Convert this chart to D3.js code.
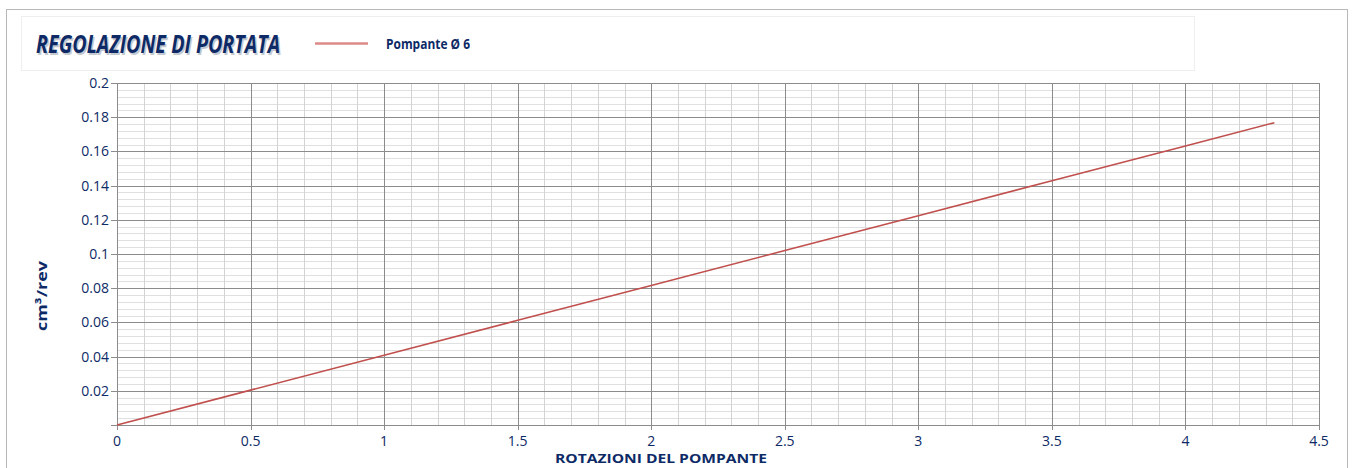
<!DOCTYPE html>
<html>
<head>
<meta charset="utf-8">
<script src="https://d3js.org/d3.v7.min.js"></script>
<style>
  body { margin: 0; background: #fff; }
  text { font-family: "Open Sans", "Noto Sans", sans-serif; }
</style>
</head>
<body>
<svg id="chart" width="1352" height="468"></svg>
<script>
// data
const rotations = [0, 0.5, 1, 1.5, 2, 2.5, 3, 3.5, 4, 4.333]
const flow = [0, 0.0204, 0.0408, 0.0612, 0.0816, 0.102, 0.1224, 0.1428, 0.1632, 0.1768]
const xTicks = [0, 0.5, 1, 1.5, 2, 2.5, 3, 3.5, 4, 4.5]
const yTicks = [0.02, 0.04, 0.06, 0.08, 0.1, 0.12, 0.14, 0.16, 0.18, 0.2]
const seriesName = 'Pompante \u00D8 6'
const title = 'REGOLAZIONE DI PORTATA'

const navy = '#0d2a66'
const svg = d3.select('#chart')

// outer frame
svg.append('rect')
    .attr('x', 6.5).attr('y', 9.5).attr('width', 1341).attr('height', 470)
    .attr('fill', '#fff').attr('stroke', '#b8b8b8')

// title box
svg.append('rect')
    .attr('x', 21.5).attr('y', 16.5).attr('width', 1173).attr('height', 54)
    .attr('fill', '#fff').attr('stroke', '#eeeeee')

const x = d3.scaleLinear().domain([0, 4.5]).range([117, 1319])
const y = d3.scaleLinear().domain([0, 0.2]).range([425, 83])

const grid = svg.append('g')
// minor grid
grid.selectAll('.hmin').data(d3.range(0, 0.2001, 0.004))
    .enter().append('line')
    .attr('x1', x(0)).attr('x2', x(4.5))
    .attr('y1', d => Math.round(y(d)) + 0.5).attr('y2', d => Math.round(y(d)) + 0.5)
    .attr('stroke', '#e0e0e0')
grid.selectAll('.vmin').data(d3.range(0, 4.5001, 0.1))
    .enter().append('line')
    .attr('y1', y(0)).attr('y2', y(0.2))
    .attr('x1', d => Math.round(x(d)) + 0.5).attr('x2', d => Math.round(x(d)) + 0.5)
    .attr('stroke', '#d4d4d4')
// major grid
grid.selectAll('.hmaj').data(yTicks)
    .enter().append('line')
    .attr('x1', x(0) - 6).attr('x2', x(4.5))
    .attr('y1', d => Math.round(y(d)) + 0.5).attr('y2', d => Math.round(y(d)) + 0.5)
    .attr('stroke', '#8c8c8c')
grid.selectAll('.vmaj').data(xTicks)
    .enter().append('line')
    .attr('y1', y(0) + 5).attr('y2', y(0.2))
    .attr('x1', d => Math.round(x(d)) + 0.5).attr('x2', d => Math.round(x(d)) + 0.5)
    .attr('stroke', '#8c8c8c')
// axis line
svg.append('line')
    .attr('x1', x(0) - 6).attr('x2', x(4.5))
    .attr('y1', Math.round(y(0)) + 0.5).attr('y2', Math.round(y(0)) + 0.5)
    .attr('stroke', '#8c8c8c')

// tick labels
svg.append('g').selectAll('text').data(yTicks)
    .enter().append('text')
    .attr('x', 109).attr('y', d => y(d) + 5)
    .attr('text-anchor', 'end')
    .attr('font-size', 14).attr('fill', navy)
    .text(d => d)
svg.append('g').selectAll('text').data(xTicks)
    .enter().append('text')
    .attr('x', d => x(d)).attr('y', 446)
    .attr('text-anchor', 'middle')
    .attr('font-size', 14).attr('fill', navy)
    .text(d => d)

// series
const pts = rotations.map((r, i) => [r, flow[i]])
svg.append('path')
    .datum(pts)
    .attr('d', d3.line().x(d => x(d[0])).y(d => y(d[1])))
    .attr('fill', 'none')
    .attr('stroke', '#c0504d')
    .attr('stroke-width', 1.6)

// axis titles
svg.append('text')
    .attr('transform', 'translate(47,296) rotate(-90)')
    .attr('text-anchor', 'middle')
    .attr('font-size', 15).attr('font-weight', 'bold').attr('fill', navy)
    .attr('textLength', 70).attr('lengthAdjust', 'spacingAndGlyphs')
    .text('cm\u00B3/rev')
svg.append('text')
    .attr('x', 661).attr('y', 463)
    .attr('text-anchor', 'middle')
    .attr('font-size', 13).attr('font-weight', 'bold').attr('fill', navy)
    .attr('textLength', 212).attr('lengthAdjust', 'spacingAndGlyphs')
    .text('ROTAZIONI DEL POMPANTE')

// title with soft shadow
svg.append('text')
    .attr('x', 37.5).attr('y', 54.5)
    .attr('font-size', 25).attr('font-weight', 'bold').attr('font-style', 'italic')
    .attr('fill', '#c4c8d0')
    .attr('textLength', 244).attr('lengthAdjust', 'spacingAndGlyphs')
    .text(title)
svg.append('text')
    .attr('x', 36).attr('y', 53)
    .attr('font-size', 25).attr('font-weight', 'bold').attr('font-style', 'italic')
    .attr('fill', navy)
    .attr('textLength', 244).attr('lengthAdjust', 'spacingAndGlyphs')
    .text(title)

// legend
svg.append('line')
    .attr('x1', 315).attr('x2', 368).attr('y1', 43.5).attr('y2', 43.5)
    .attr('stroke', '#dc8a88').attr('stroke-width', 2.4)
svg.append('text')
    .attr('x', 386).attr('y', 49)
    .attr('font-size', 14).attr('font-weight', 'bold').attr('fill', navy)
    .attr('textLength', 84).attr('lengthAdjust', 'spacingAndGlyphs')
    .text(seriesName)
</script>
</body>
</html>
